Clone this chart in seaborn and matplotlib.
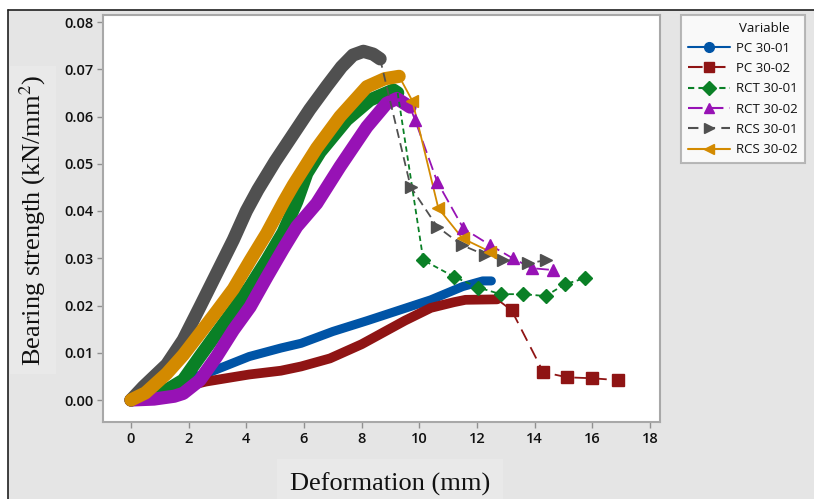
import matplotlib
matplotlib.use("Agg")
import matplotlib.pyplot as plt
from matplotlib.lines import Line2D
from matplotlib.patches import Rectangle
import seaborn as sns
import pandas as pd

# ---------------- data ----------------
series_names = ["PC 30-01", "PC 30-02", "RCT 30-01", "RCT 30-02", "RCS 30-01", "RCS 30-02"]

# dense (continuous) part of each curve
pc01_x = [0.0, 1.0, 2.0, 2.7, 4.1, 5.2, 5.9, 7.0, 8.2, 9.3, 10.4, 11.5, 12.2, 12.5]
pc01_y = [0.0, 0.002, 0.0045, 0.0058, 0.0092, 0.011, 0.012, 0.0145, 0.0168, 0.019, 0.0212, 0.024, 0.0252, 0.0252]

pc02_x = [0.0, 1.0, 2.0, 2.6, 4.1, 5.2, 5.9, 6.9, 8.0, 8.6, 9.5, 10.4, 11.2, 11.6, 12.7]
pc02_y = [0.0, 0.0015, 0.003, 0.0039, 0.0054, 0.0062, 0.0071, 0.0088, 0.0118, 0.0138, 0.0168, 0.0195, 0.0207, 0.0212, 0.0213]

rct01_x = [0.0, 0.43, 1.24, 1.81, 2.39, 2.97, 3.55, 4.13, 4.71, 5.28, 5.75, 6.1, 6.56, 7.48, 8.29, 9.1, 9.25]
rct01_y = [0.0, 0.0007, 0.0021, 0.0042, 0.0092, 0.0141, 0.019, 0.024, 0.0296, 0.0355, 0.042, 0.048, 0.0525, 0.0593, 0.0635, 0.0656, 0.065]

rct02_x = [0.0, 0.8, 1.5, 1.81, 2.39, 2.97, 3.55, 4.13, 4.71, 5.28, 5.75, 6.44, 7.25, 8.18, 8.87, 9.22, 9.68]
rct02_y = [0.0, 0.0002, 0.0008, 0.0014, 0.0042, 0.0092, 0.0148, 0.0197, 0.026, 0.032, 0.0367, 0.0416, 0.0494, 0.0578, 0.0628, 0.0638, 0.062]

rcs01_x = [0.0, 0.43, 1.24, 1.81, 2.39, 2.97, 3.55, 4.0, 4.4, 5.0, 5.6, 6.2, 6.8, 7.3, 7.7, 8.06, 8.4, 8.64]
rcs01_y = [0.0, 0.0028, 0.0075, 0.0127, 0.0197, 0.0268, 0.0339, 0.040, 0.0445, 0.0505, 0.056, 0.0615, 0.0665, 0.0705, 0.073, 0.0738, 0.0732, 0.0722]

rcs02_x = [0.0, 0.5, 1.24, 1.81, 2.39, 3.0, 3.55, 4.13, 4.71, 5.3, 5.63, 6.44, 7.25, 8.18, 8.8, 9.3]
rcs02_y = [0.0, 0.0015, 0.0056, 0.0095, 0.0141, 0.019, 0.0235, 0.0295, 0.0353, 0.042, 0.0455, 0.0533, 0.060, 0.0663, 0.068, 0.0685]

# sparse (post-peak) part of each curve
pc01_tx = []
pc01_ty = []
pc02_tx = [13.2, 14.3, 15.13, 16.0, 16.9]
pc02_ty = [0.019, 0.0059, 0.0048, 0.0046, 0.0042]
rct01_tx = [10.14, 11.2, 12.05, 12.82, 13.61, 14.38, 15.05, 15.75]
rct01_ty = [0.0296, 0.0261, 0.0238, 0.0224, 0.0224, 0.022, 0.0245, 0.0258]
rct02_tx = [9.85, 10.62, 11.53, 12.45, 13.24, 13.9, 14.65]
rct02_ty = [0.0593, 0.0462, 0.0363, 0.0328, 0.030, 0.0279, 0.0275]
rcs01_tx = [9.7, 10.62, 11.47, 12.28, 12.89, 13.78, 14.38]
rcs01_ty = [0.0451, 0.0367, 0.0328, 0.0307, 0.0296, 0.0289, 0.0296]
rcs02_tx = [9.76, 10.66, 11.5, 12.45]
rcs02_ty = [0.0633, 0.0406, 0.0342, 0.0314]

x_ticks = [0, 2, 4, 6, 8, 10, 12, 14, 16, 18]
y_ticks = [0.00, 0.01, 0.02, 0.03, 0.04, 0.05, 0.06, 0.07, 0.08]

# ---------------- style ----------------
colors = ["#0054a6", "#8f1414", "#0a8026", "#9712b5", "#505050", "#d38a00"]
markers = ["o", "s", "D", "^", ">", "<"]
dashes = [None, (7, 4), (3, 2), (7, 3), (5, 3), None]
msizes = [7, 8, 7, 8, 8, 8]
band_lw = [6.5, 7.0, 9.5, 9.5, 9.5, 9.5]

dense = [(pc01_x, pc01_y), (pc02_x, pc02_y), (rct01_x, rct01_y),
         (rct02_x, rct02_y), (rcs01_x, rcs01_y), (rcs02_x, rcs02_y)]
tails = [(pc01_tx, pc01_ty), (pc02_tx, pc02_ty), (rct01_tx, rct01_ty),
         (rct02_tx, rct02_ty), (rcs01_tx, rcs01_ty), (rcs02_tx, rcs02_ty)]

sns.set_theme(style="white")
plt.rcParams["font.family"] = ["Open Sans", "DejaVu Sans"]

W, H = 814, 499
fig = plt.figure(figsize=(W / 100, H / 100), dpi=100, facecolor="white")
# gray background panel with dark border top/left
fig.patches.append(Rectangle((8 / W, 0), 1 - 8 / W, (H - 10) / H, transform=fig.transFigure,
                             facecolor="#e5e5e5", edgecolor="none", zorder=-10))
fig.lines.append(Line2D([8 / W, 1], [(H - 10) / H] * 2, transform=fig.transFigure, color="#202020", lw=1.2))
fig.lines.append(Line2D([8 / W] * 2, [0, (H - 10) / H], transform=fig.transFigure, color="#202020", lw=1.2))

ax = fig.add_axes([103 / W, (H - 422) / H, (660 - 103) / W, (422 - 15) / H])
ax.set_facecolor("white")

for i in range(6):
    dx, dy = dense[i]
    df = pd.DataFrame({"x": dx, "y": dy})
    sns.lineplot(data=df, x="x", y="y", ax=ax, color=colors[i], lw=band_lw[i], sort=False,
                 estimator=None, solid_capstyle="round", solid_joinstyle="round", zorder=2 + i * 0.1)
for i in range(6):
    dx, dy = dense[i]
    tx, ty = tails[i]
    if not tx:
        continue
    df = pd.DataFrame({"x": [dx[-1]] + tx, "y": [dy[-1]] + ty})
    kw = {}
    if dashes[i] is not None:
        kw["dashes"] = dashes[i]
    sns.lineplot(data=df, x="x", y="y", ax=ax, color=colors[i], lw=1.3, sort=False,
                 estimator=None, zorder=3 + i * 0.1, **kw)
    ax.plot(tx, ty, ls="none", marker=markers[i], color=colors[i], ms=msizes[i],
            mec=colors[i], zorder=4 + i * 0.1)

ax.set_xlim((103 - 131) / 28.83, (660 - 131) / 28.83)
ax.set_ylim((400 - 422) / 4725, (400 - 15) / 4725)
ax.set_xticks(x_ticks)
ax.set_yticks(y_ticks)
ax.set_xticklabels([str(t) for t in x_ticks])
ax.set_yticklabels([f"{t:.2f}" for t in y_ticks])
ax.tick_params(axis="both", which="both", direction="out", length=4, width=1, color="#909090",
               labelsize=10.5, pad=3, bottom=True, left=True)
for lab in ax.get_xticklabels() + ax.get_yticklabels():
    lab.set_fontweight("semibold")
    lab.set_color("#111111")
for sp in ax.spines.values():
    sp.set_color("#a8a8a8")
    sp.set_linewidth(1.5)

ax.set_xlabel("")
ax.set_ylabel("")
fig.text(390 / W, (H - 484) / H, "Deformation (mm)", ha="center", va="center",
         family="Liberation Serif", fontsize=19, color="#111111",
         bbox=dict(boxstyle="square,pad=0.5", facecolor="#e9e9e9", edgecolor="none"))
fig.text(33 / W, (H - 220) / H, "Bearing strength (kN/mm$^{2}$)", ha="center", va="center",
         rotation=90, family="Liberation Serif", fontsize=19, color="#111111",
         math_fontfamily="stix",
         bbox=dict(boxstyle="square,pad=0.3", facecolor="#e9e9e9", edgecolor="none"))

handles = []
for i in range(6):
    ls = "-" if dashes[i] is None else (0, dashes[i])
    handles.append(Line2D([], [], color=colors[i], lw=1.5, ls=ls, marker=markers[i], ms=7,
                          mec=colors[i]))
leg = fig.legend(handles, series_names, title=" ", loc="upper left",
                 bbox_to_anchor=(681 / W, (H - 15) / H), borderaxespad=0, frameon=True,
                 fancybox=False, fontsize=9.5, title_fontsize=9.5, labelspacing=0.55,
                 handlelength=3.2, handletextpad=0.5, borderpad=0.5)
for t in leg.get_texts():
    t.set_color("#111111")
leg.get_frame().set_edgecolor("#a8a8a8")
leg.get_frame().set_linewidth(1.5)
leg.get_frame().set_facecolor("white")
fig.text(764 / W, (H - 29) / H, "Variable", ha="center", va="center", fontsize=9.5,
         color="#111111", zorder=10)

fig.savefig("out.png", dpi=100, facecolor=fig.get_facecolor())
